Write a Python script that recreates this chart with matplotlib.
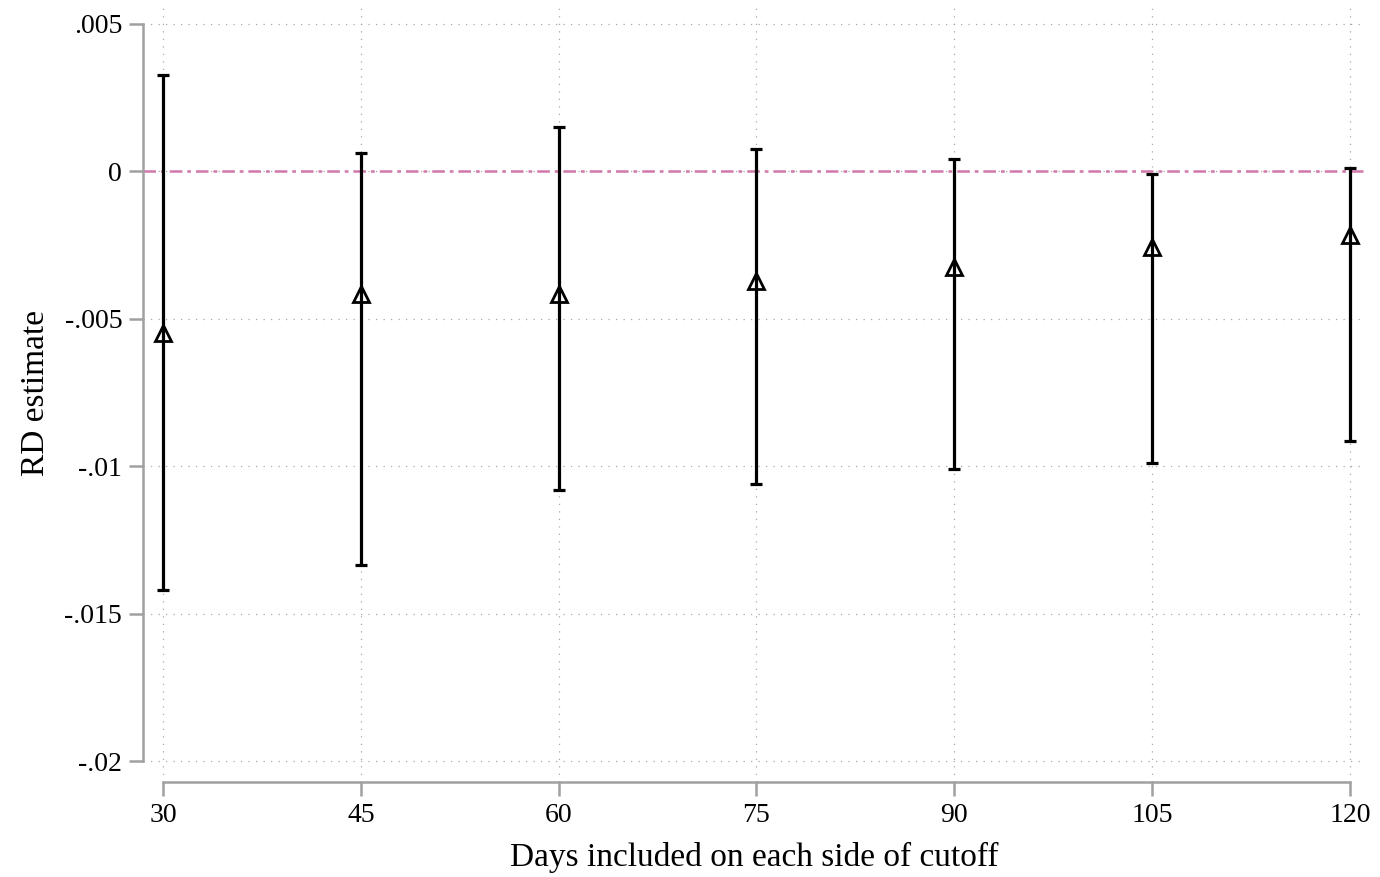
import numpy as np
import matplotlib.pyplot as plt

plt.rcParams['font.family'] = ['Liberation Serif', 'DejaVu Serif']

# RD estimates by bandwidth, with 95% confidence bounds
days = [30, 45, 60, 75, 90, 105, 120]
estimate = [-0.00548, -0.00415, -0.00415, -0.00371, -0.00324, -0.00256, -0.00215]
ci_upper = [0.00328, 0.00063, 0.00151, 0.00076, 0.00043, -0.00008, 0.00012]
ci_lower = [-0.0142, -0.01335, -0.0108, -0.0106, -0.0101, -0.00989, -0.00913]
yticks = [-0.02, -0.015, -0.01, -0.005, 0, 0.005]
ytick_labels = ['-.02', '-.015', '-.01', '-.005', '0', '.005']

est = np.array(estimate)
err = [est - np.array(ci_lower), np.array(ci_upper) - est]

fig = plt.figure(figsize=(13.8, 8.77), dpi=100)
ax = fig.add_axes([143 / 1380, 1 - 782 / 877, (1365 - 143) / 1380, (782 - 5) / 877])

grid_kw = dict(color='#a8a8a8', lw=0.9, linestyle=(0, (1, 5)), zorder=0)
for x in days:
    ax.axvline(x, **grid_kw)
for y in yticks:
    ax.axhline(y, **grid_kw)

ax.axhline(0, color='#d277ab', lw=1.8, linestyle=(0, (5, 2, 1.5, 2)), zorder=1)

ax.errorbar(days, estimate, yerr=err, fmt='none', ecolor='black',
            elinewidth=2.3, capsize=4.5, capthick=2.3, zorder=2)
ax.plot(days, estimate, linestyle='none', marker='^', markersize=11,
        markerfacecolor='none', markeredgecolor='black', markeredgewidth=2,
        zorder=3)

ax.set_xlim(28.484, 121.14)
ax.set_ylim(-0.020712, 0.005644)

for side in ['top', 'right']:
    ax.spines[side].set_visible(False)
for side in ['left', 'bottom']:
    ax.spines[side].set_color('#a0a0a0')
    ax.spines[side].set_linewidth(1.8)
ax.spines['left'].set_bounds(-0.02, 0.005)
ax.spines['bottom'].set_bounds(30, 120)

ax.set_xticks(days)
ax.set_xticklabels([str(d) for d in days])
ax.set_yticks(yticks)
ax.set_yticklabels(ytick_labels)
ax.tick_params(axis='both', direction='out', length=10, width=1.8,
               color='#a0a0a0', labelsize=20, pad=5)

ax.set_xlabel('Days included on each side of cutoff', fontsize=24, labelpad=10)
ax.set_ylabel('RD estimate', fontsize=24, labelpad=10)

fig.savefig('out.png', dpi=100)
